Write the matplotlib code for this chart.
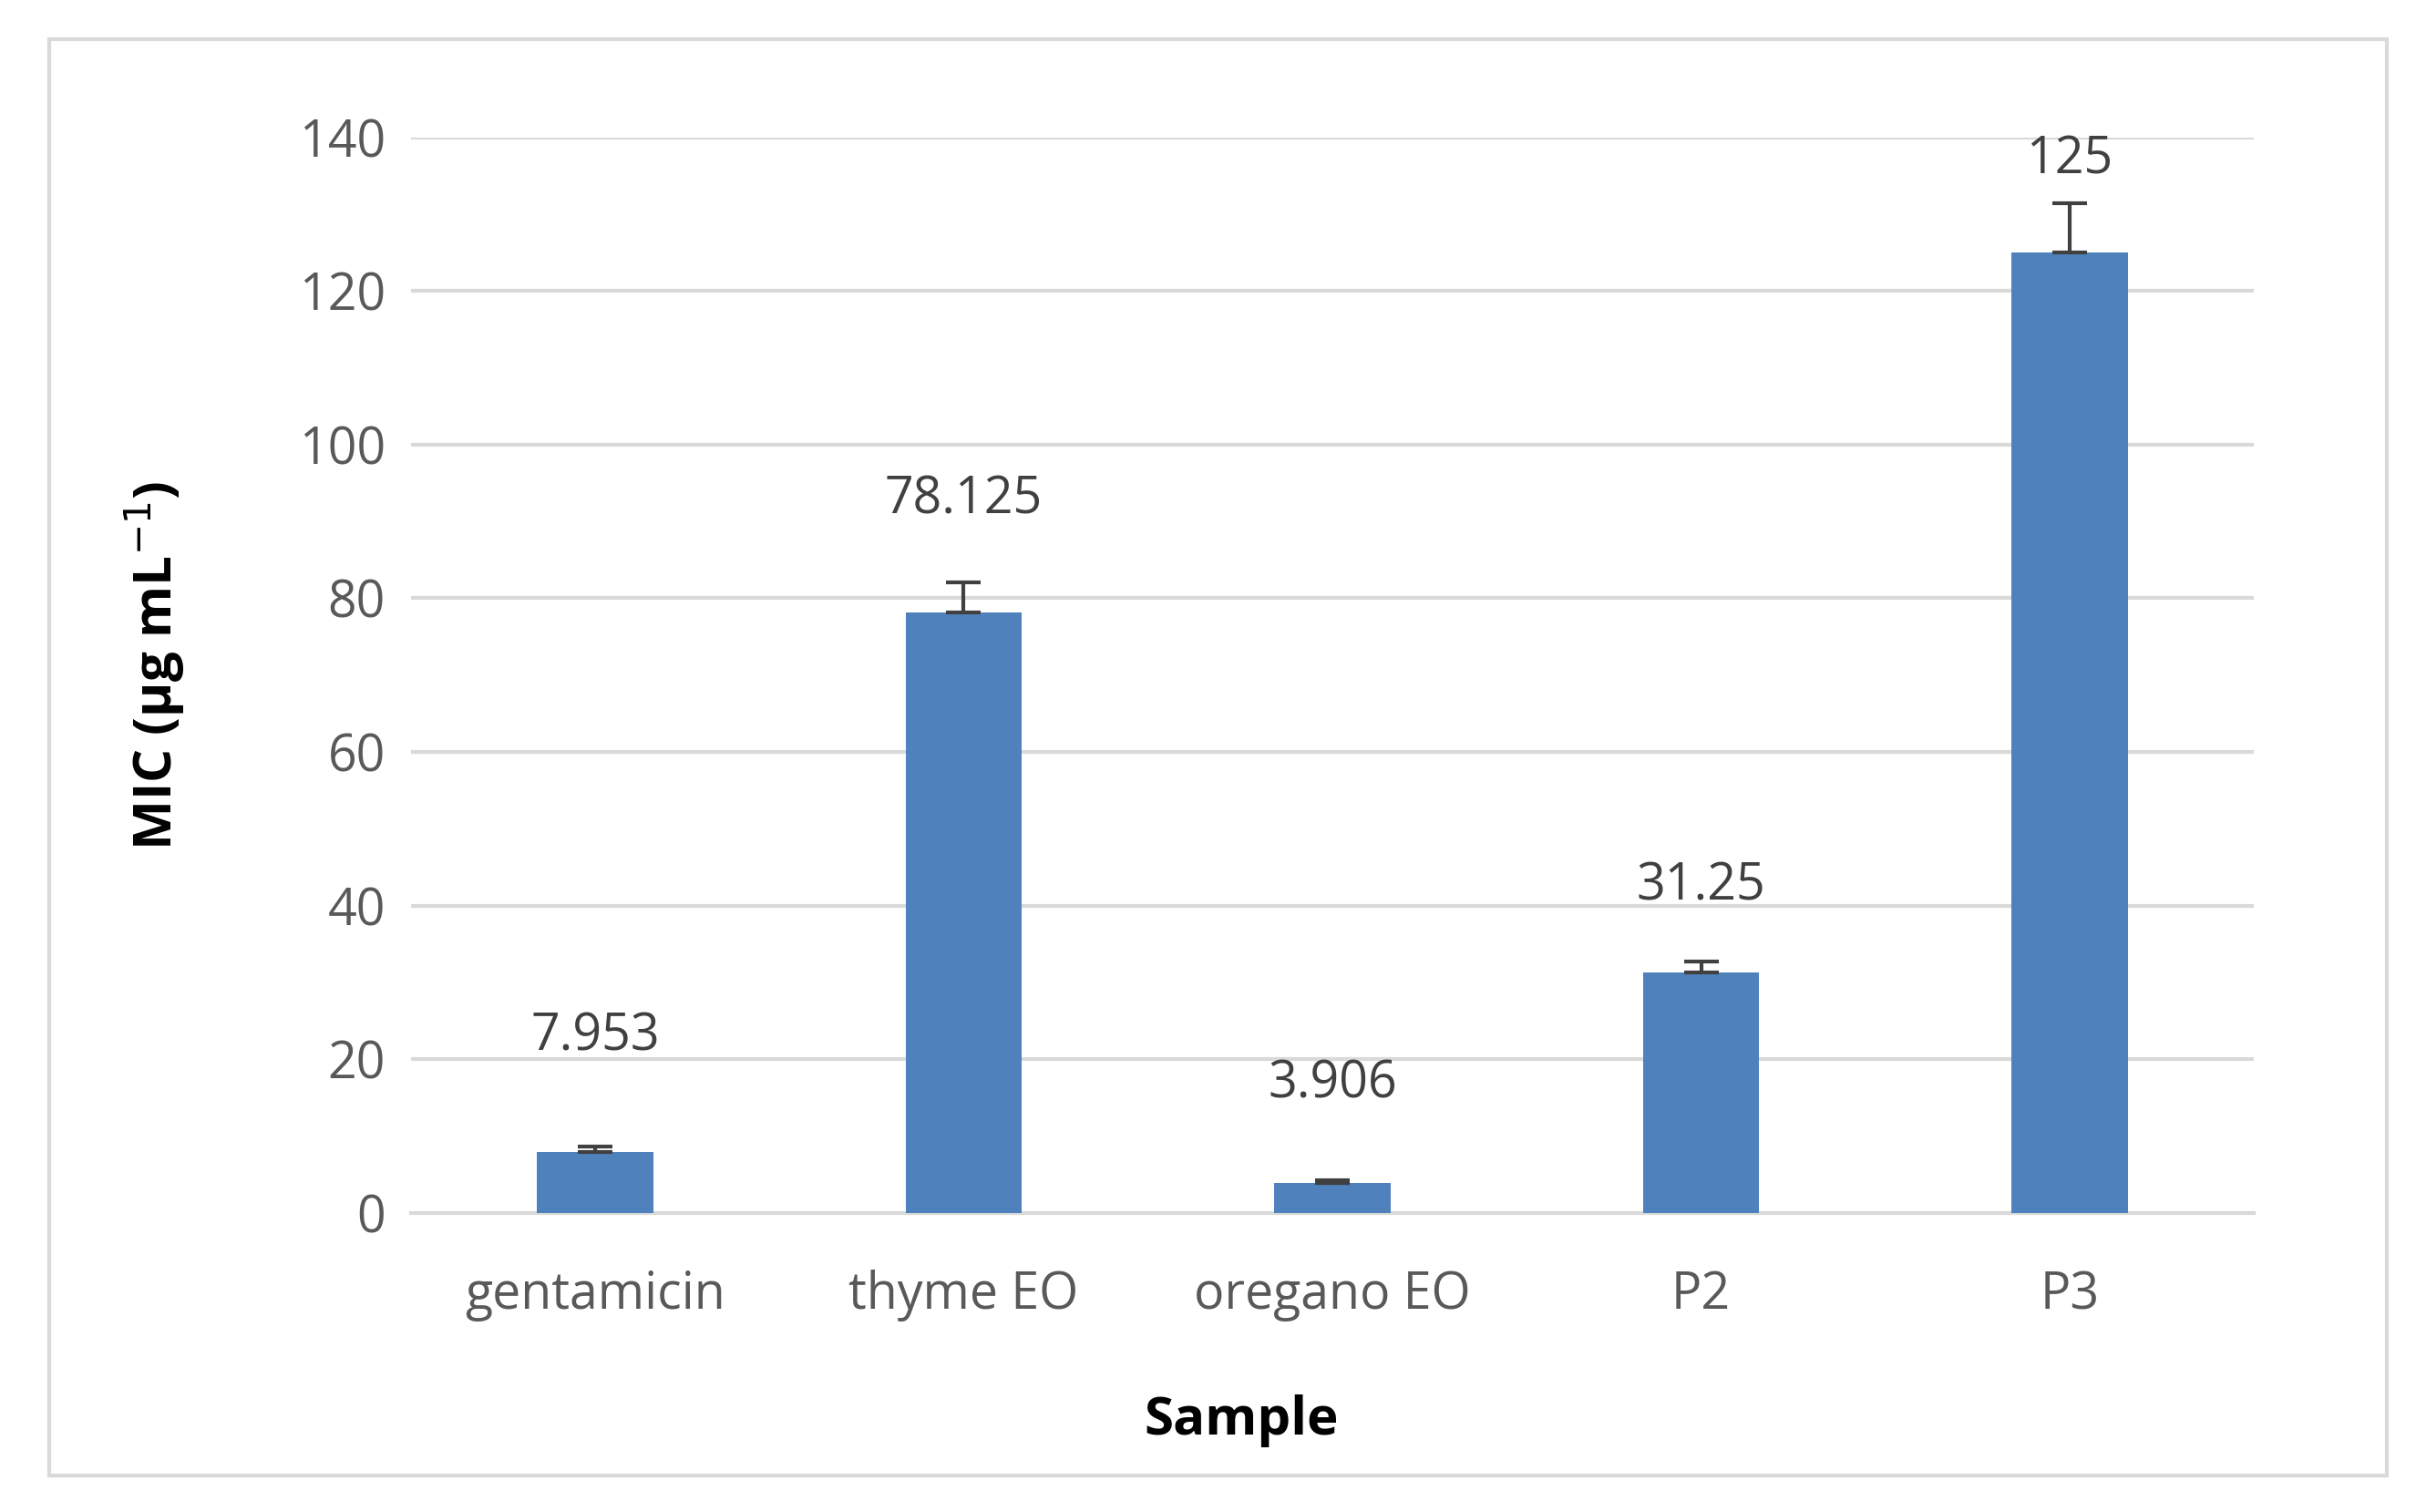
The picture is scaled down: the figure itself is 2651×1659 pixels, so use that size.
import matplotlib
matplotlib.use("Agg")
import matplotlib.pyplot as plt
from matplotlib.patches import Rectangle

categories = ["gentamicin", "thyme EO", "oregano EO", "P2", "P3"]
values = [7.953, 78.125, 3.906, 31.25, 125]
errors = [0.6, 4.0, 0.3, 1.5, 6.5]
labels = ["7.953", "78.125", "3.906", "31.25", "125"]
label_y = [22.8, 92.8, 16.7, 42.4, 137.0]

plt.rcParams['font.family'] = ['Open Sans', 'DejaVu Sans']
fig = plt.figure(figsize=(26.51, 16.59), dpi=100)
fig.patches.append(Rectangle((0.0205, 0.024), 0.9675, 0.95, transform=fig.transFigure,
                             fill=False, edgecolor='#d9d9d9', linewidth=3))
ax = fig.add_axes([0.170, 0.198, 0.763, 0.711])
x = range(len(categories))
ax.bar(x, values, width=0.315, color='#4f81bd', zorder=3)
ax.errorbar(x, values, yerr=[[0]*5, errors], fmt='none', ecolor='#404040',
            elinewidth=3, capsize=14, capthick=3, zorder=4)
for i, (t, y) in enumerate(zip(labels, label_y)):
    ax.text(i, y, t, ha='center', va='center', fontsize=40, color='#404040')
ax.set_ylim(0, 140)
ax.set_xlim(-0.5, 4.5)
ax.set_yticks(range(0, 141, 20))
ax.set_xticks(list(x))
ax.set_xticklabels(categories)
ax.tick_params(axis='both', length=0, labelsize=40, labelcolor='#595959', pad=20)
ax.tick_params(axis='x', pad=45)
ax.grid(axis='y', color='#d9d9d9', linewidth=3, zorder=0)
for s in ['top', 'right', 'left']:
    ax.spines[s].set_visible(False)
ax.spines['bottom'].set_color('#d9d9d9')
ax.spines['bottom'].set_linewidth(3)
fig.text(0.064, 0.56, "MIC (µg mL$^{-1}$)", rotation=90, ha='center', va='center',
         fontsize=42, fontweight='bold')
fig.text(0.514, 0.06, "Sample", ha='center', va='center', fontsize=42, fontweight='bold')
fig.savefig("out.png", dpi=100)
